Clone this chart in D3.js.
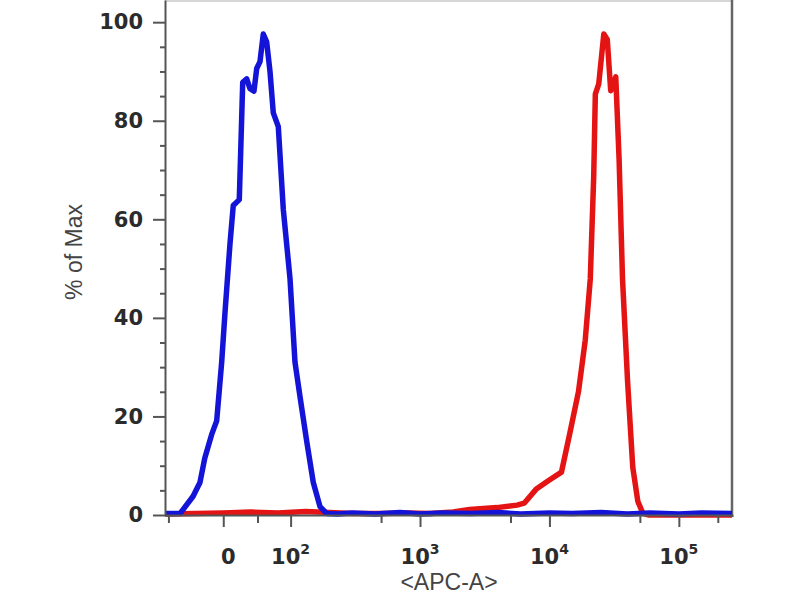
<!DOCTYPE html>
<html><head><meta charset="utf-8">
<script src="https://cdn.jsdelivr.net/npm/d3@7"></script>
<style>body{margin:0;background:#fff}</style>
</head><body>
<svg id="c" width="800" height="600"></svg>
<script>
// ---- data ----
const xMajorTicks = [0, 100, 1000, 10000, 100000];
const xTickBase = ["0", "10", "10", "10", "10"];
const xTickExp  = ["", "2", "3", "4", "5"];
const xMinorTicks = [-80, 50, 500, 5000, 50000, 200000];
const yTicks = [0, 20, 40, 60, 80, 100];
const yMinorTicks = [5,10,15,25,30,35,45,50,55,65,70,75,85,90,95];
const xLabel = "<APC-A>";
const yLabel = "% of Max";

// blue histogram (channel value, % of max)
const blueX = [-85, -63, -44, -34, -27, -17, -9.6, -2.3, 2.5, 9.8, 14.6, 23.4, 28.4, 34.2, 39, 44.8, 48.8, 53.6, 58.4, 63.3, 68.2, 73, 80.3, 87.8, 98.9, 108.1, 118.2, 133.1, 149.7, 168.7, 190, 230, 300, 450, 700, 1000, 1500, 2500, 4000, 6000, 10000, 15000, 25000, 40000, 60000, 100000, 150000, 262144];
const blueY = [0.3, 0.3, 3.8, 6.6, 11.5, 16.3, 19.1, 31, 41, 55, 62.8, 64, 87.8, 88.5, 86.5, 86, 90.6, 92, 97.6, 96, 90, 81.6, 78.8, 62, 48, 31, 24, 15, 6.6, 1.7, 0.3, 0.2, 0.4, 0.2, 0.5, 0.2, 0.4, 0.3, 0.5, 0.2, 0.4, 0.3, 0.5, 0.2, 0.4, 0.2, 0.4, 0.3];

// red histogram
const redX = [-85, -40, 0, 40, 80, 130, 200, 300, 500, 800, 1200, 1800, 2415, 3926, 5623, 6379, 7874, 9734, 12388, 14409, 16760, 18899, 20686, 21991, 22630, 24056, 26318, 27988, 29747, 32548, 34538, 36710, 40170, 44041, 48178, 52720, 58000, 80000, 262144];
const redY = [0.2, 0.3, 0.4, 0.6, 0.4, 0.7, 0.5, 0.3, 0.3, 0.4, 0.3, 0.6, 1.1, 1.5, 2.0, 2.4, 5.2, 6.9, 8.7, 16.7, 25, 35.4, 47.9, 68.75, 85.4, 87.5, 97.6, 96.5, 86.1, 88.9, 72.2, 47.9, 27.1, 9.7, 2.8, 0.35, 0, 0, 0];

// ---- scales ----
const L = 82;
const T = v => v >= L ? Math.log10(v) : Math.log10(L) + (v - L) / (L * Math.LN10);
const xMin = -85, xMax = 262144;
const xLin = d3.scaleLinear().domain([T(xMin), T(xMax)]).range([165, 733]);
function x(v) { return xLin(T(v)); }
x.domain = () => [xMin, xMax];
x.range = () => xLin.range();
x.copy = () => x;

const y = d3.scaleLinear().domain([0, 104.5]).range([515, 0]);

const svg = d3.select("#c");
const font = "'DejaVu Sans', sans-serif";

// frame
svg.append("line").attr("x1", 165).attr("x2", 733).attr("y1", 1).attr("y2", 1)
  .attr("stroke", "#c8c8c8").attr("stroke-width", 1.5);
svg.append("line").attr("x1", 732).attr("x2", 732).attr("y1", 0).attr("y2", 517)
  .attr("stroke", "#666").attr("stroke-width", 2.5);

// clip
svg.append("clipPath").attr("id", "clip").append("rect")
  .attr("x", 165).attr("y", 0).attr("width", 567).attr("height", 520);

const line = d3.line().x(d => x(d[0])).y(d => y(d[1]));
const plot = svg.append("g").attr("clip-path", "url(#clip)");
plot.append("path").datum(d3.zip(redX, redY)).attr("d", line)
  .attr("fill", "none").attr("stroke", "#e41414").attr("stroke-width", 5.5)
  .attr("stroke-linejoin", "round").attr("stroke-linecap", "round");
plot.append("path").datum(d3.zip(blueX, blueY)).attr("d", line)
  .attr("fill", "none").attr("stroke", "#1414d8").attr("stroke-width", 5.5)
  .attr("stroke-linejoin", "round").attr("stroke-linecap", "round");

// y axis
const gy = svg.append("g").attr("transform", "translate(165,0)")
  .call(d3.axisLeft(y).tickValues(yTicks).tickSize(12).tickSizeOuter(0).tickPadding(10));
svg.append("g").attr("transform", "translate(165,0)")
  .call(d3.axisLeft(y).tickValues(yMinorTicks).tickSize(5).tickSizeOuter(0).tickFormat(""))
  .select(".domain").remove();
svg.selectAll("g line, g path.domain").attr("stroke", "#555").attr("stroke-width", 2);
gy.selectAll("text").attr("font-family", font).attr("font-weight", "bold")
  .attr("font-size", 21).attr("fill", "#2b2b2b");

// x axis
const gx = svg.append("g").attr("transform", "translate(0,515)")
  .call(d3.axisBottom(x).tickValues(xMajorTicks).tickSize(12).tickSizeOuter(0).tickFormat(""));
const gxm = svg.append("g").attr("transform", "translate(0,515)")
  .call(d3.axisBottom(x).tickValues(xMinorTicks).tickSize(8).tickSizeOuter(0).tickFormat(""));
gxm.select(".domain").remove();
[gx, gxm].forEach(g => g.selectAll("line, path.domain").attr("stroke", "#555").attr("stroke-width", 2));

const lbl = svg.append("g");
xMajorTicks.forEach((v, i) => {
  const t = lbl.append("text").attr("x", x(v) + (i === 0 ? 5 : 0)).attr("y", 564)
    .attr("text-anchor", "middle").attr("font-family", font).attr("font-weight", "bold")
    .attr("font-size", 21).attr("fill", "#2b2b2b");
  t.append("tspan").text(xTickBase[i]);
  if (xTickExp[i]) t.append("tspan").attr("dy", -10).attr("font-size", 14).text(xTickExp[i]);
});

// axis titles
svg.append("text").attr("x", 449).attr("y", 590).attr("text-anchor", "middle")
  .attr("font-family", "'Liberation Sans', Arial, sans-serif").attr("font-size", 23)
  .attr("fill", "#444").text(xLabel);
svg.append("text").attr("transform", "translate(82,252) rotate(-90)").attr("text-anchor", "middle")
  .attr("font-family", "'Liberation Sans', Arial, sans-serif").attr("font-size", 23)
  .attr("fill", "#444").text(yLabel);
</script>
</body></html>
